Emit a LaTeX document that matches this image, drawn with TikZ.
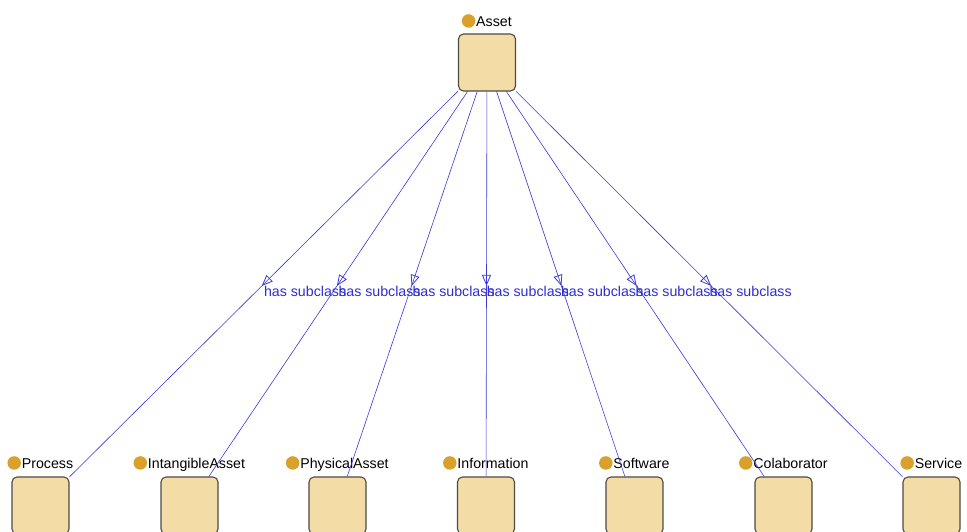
\documentclass[tikz,border=0pt]{standalone}
\usepackage{fontspec}
\setmainfont{Liberation Sans}
\usetikzlibrary{arrows.meta,decorations.markings}

\definecolor{boxfill}{HTML}{F4DCA6}
\definecolor{boxline}{HTML}{4F4A44}
\definecolor{dotc}{HTML}{D9A02B}
\definecolor{edgeblue}{HTML}{3A3AD8}
\definecolor{lblblue}{HTML}{2E2ED2}

\tikzset{
  cls/.style={draw=boxline, fill=boxfill, rounded corners=5pt, line width=1.1pt,
    minimum width=57pt, minimum height=57pt, inner sep=0pt},
  dotnode/.style={circle, fill=dotc, minimum size=13.5pt, inner sep=0pt},
  ttl/.style={inner sep=0pt, text height=11pt, text depth=0pt, anchor=base,
    font=\fontsize{14.2}{16}\selectfont,
    label={[dotnode, label distance=0.5pt]west:}},
  sub/.style={draw=edgeblue, line width=0.6pt, postaction={decorate},
    decoration={markings, mark=at position 0.505 with
      {\arrow[edgeblue, line width=0.8pt]{Triangle[open, length=11pt, width=9pt]}}}},
  lbl/.style={pos=0.5, anchor=north west, inner sep=0pt, yshift=-2pt,
    text=lblblue, font=\fontsize{14.2}{16}\selectfont},
}

\begin{document}
\begin{tikzpicture}[x=1pt, y=-1pt]
  \useasboundingbox (0,0) rectangle (967,531);
  \fill[white] (0,0) rectangle (967,531);
  \clip (0,0) rectangle (967,531);

  % class boxes
  \node[cls] (asset) at (487,62.5) {};
  \node[cls] (process) at (40.5,505.5) {};
  \node[cls] (intangible) at (189.5,505.5) {};
  \node[cls] (physical) at (337.5,505.5) {};
  \node[cls] (information) at (486,505.5) {};
  \node[cls] (software) at (634.5,505.5) {};
  \node[cls] (colaborator) at (783.5,505.5) {};
  \node[cls] (service) at (931.5,505.5) {};

  % class names with their dots
  \node[ttl] (tasset) at ([xshift=7pt, yshift=7pt]asset.north) {Asset};
  \node[ttl] (tprocess) at ([xshift=7pt, yshift=8pt]process.north) {Process};
  \node[ttl] (tintangible) at ([xshift=7pt, yshift=8pt]intangible.north) {IntangibleAsset};
  \node[ttl] (tphysical) at ([xshift=7pt, yshift=8pt]physical.north) {PhysicalAsset};
  \node[ttl] (tinformation) at ([xshift=7pt, yshift=8pt]information.north) {Information};
  \node[ttl] (tsoftware) at ([xshift=7pt, yshift=8pt]software.north) {Software};
  \node[ttl] (tcolaborator) at ([xshift=7pt, yshift=8pt]colaborator.north) {Colaborator};
  \node[ttl] (tservice) at ([xshift=7pt, yshift=8pt]service.north) {Service};

  % subclass relations
  \foreach \c in {process, intangible, physical, information, software, colaborator, service}
    \draw[sub] (asset) -- (\c) node[lbl] {has subclass};
\end{tikzpicture}
\end{document}
